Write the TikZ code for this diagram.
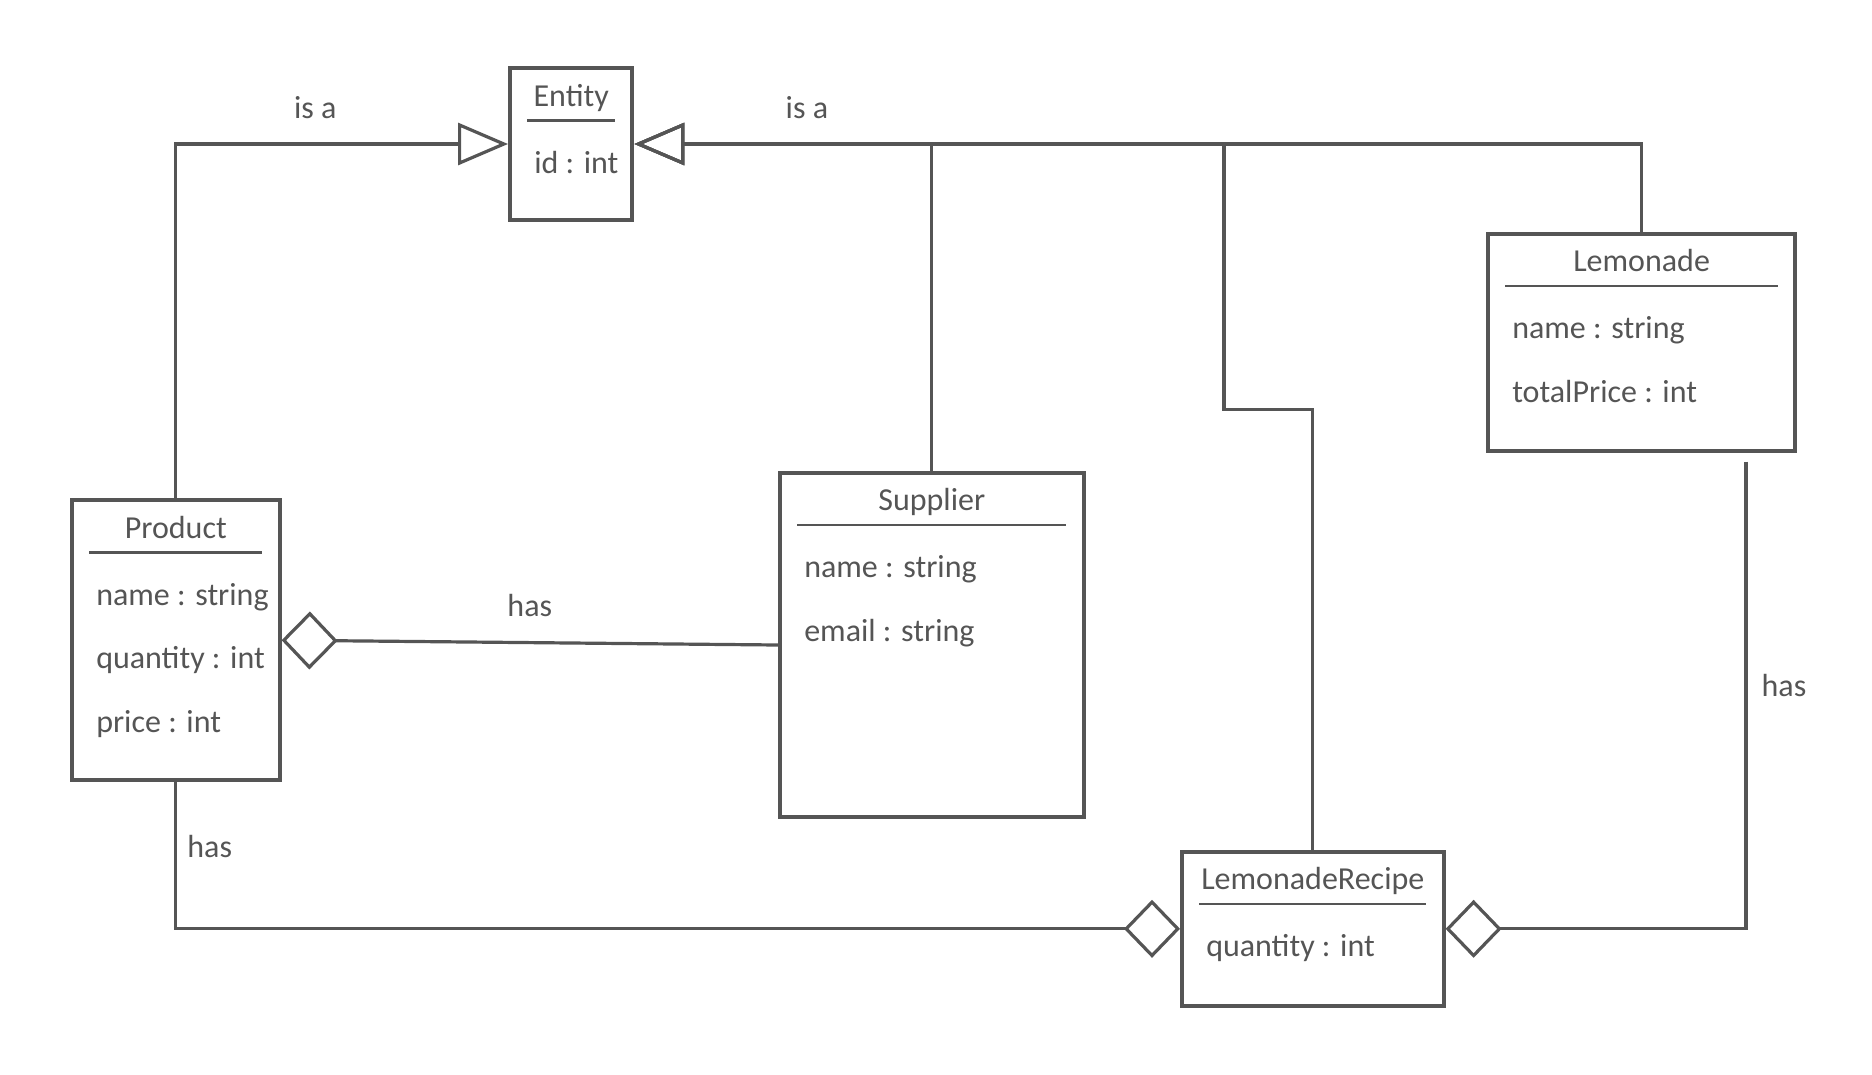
\documentclass[tikz,border=0pt]{standalone}
\usepackage{fontspec}
\setmainfont{Carlito}
\usetikzlibrary{arrows.meta,positioning,calc}
\definecolor{ink}{HTML}{555555}
\newlength\dpx
\setlength\dpx{0.6pt}

\begin{document}
\begin{tikzpicture}[x=0.6pt,y=-0.6pt,
                    every node/.style={text=ink,font=\fontsize{16}{19}\selectfont},
                    classbox/.style={draw=ink,line width=2pt,inner sep=0pt},
                    title/.style={anchor=base},
                    attr/.style={anchor=base west},
                    sep/.style={draw=ink,line width=1.2pt},
                    link/.style={draw=ink,line width=1.6pt},
                    isa/.style={link,-{Triangle[open,length=25pt,width=21pt]}},
                    has/.style={link,-{Diamond[open,length=28pt,width=29pt]}},
                    lbl/.style={inner sep=0pt}]
  \useasboundingbox (0,0) rectangle (1560,895);

  % classes
  \node[classbox,minimum width=102\dpx,minimum height=126\dpx] (ent)  at (476,120)     {};
  \node[classbox,minimum width=173\dpx,minimum height=233\dpx] (prod) at (146.5,533.5) {};
  \node[classbox,minimum width=253\dpx,minimum height=287\dpx] (sup)  at (776.5,537.5) {};
  \node[classbox,minimum width=256\dpx,minimum height=181\dpx] (lem)  at (1368,285.5)  {};
  \node[classbox,minimum width=218\dpx,minimum height=128\dpx] (rec)  at (1094,774)    {};

  \node[title] (entT)  at ([shift={(0,33)}]ent.north)  {Entity};
  \node[attr]  (entA)  at ([shift={(16,89)}]ent.north west) {id : int};
  \draw[sep] ([shift={(16,45)}]ent.north west) -- ([shift={(-16,45)}]ent.north east);

  \node[title] (prodT) at ([shift={(0,33)}]prod.north) {Product};
  \node[attr]  (prodA) at ([shift={(16,89)}]prod.north west)  {name : string};
  \node[attr]  (prodB) at ([shift={(16,142)}]prod.north west) {quantity : int};
  \node[attr]  (prodC) at ([shift={(16,195)}]prod.north west) {price : int};
  \draw[sep] ([shift={(16,45)}]prod.north west) -- ([shift={(-16,45)}]prod.north east);

  \node[title] (supT)  at ([shift={(0,33)}]sup.north) {Supplier};
  \node[attr]  (supA)  at ([shift={(16,89)}]sup.north west)  {name : string};
  \node[attr]  (supB)  at ([shift={(16,142)}]sup.north west) {email : string};
  \draw[sep] ([shift={(16,45)}]sup.north west) -- ([shift={(-16,45)}]sup.north east);

  \node[title] (lemT)  at ([shift={(0,33)}]lem.north) {Lemonade};
  \node[attr]  (lemA)  at ([shift={(16,89)}]lem.north west)  {name : string};
  \node[attr]  (lemB)  at ([shift={(16,142)}]lem.north west) {totalPrice : int};
  \draw[sep] ([shift={(16,45)}]lem.north west) -- ([shift={(-16,45)}]lem.north east);

  \node[title] (recT)  at ([shift={(0,33)}]rec.north) {LemonadeRecipe};
  \node[attr]  (recA)  at ([shift={(16,89)}]rec.north west)  {quantity : int};
  \draw[sep] ([shift={(16,45)}]rec.north west) -- ([shift={(-16,45)}]rec.north east);

  % relations
  \coordinate (bend)    at (1020,341);
  \coordinate (lemfoot) at ([shift={(87,7)}]lem.south);

  \draw[isa] (prod.north) |- node[lbl,pos=0.71,above=12pt] {is a} (ent.west);
  \draw[isa] (sup.north)  |- node[lbl,pos=0.71,above=12pt] {is a} (ent.east);
  \draw[isa] (lem.north)  |- (ent.east);
  \draw[isa] (rec.north)  |- (bend) |- (ent.east);

  \draw[link,{Diamond[open,length=28pt,width=29pt]}-] (prod.east) -- node[lbl,midway,above=12pt] {has} (sup.west);
  \draw[has] (prod.south) |- node[lbl,pos=0.22,right=5pt] {has} (rec.west);
  \draw[has] (lemfoot)    |- node[lbl,pos=0.24,right=7pt] {has} (rec.east);

\end{tikzpicture}
\end{document}
